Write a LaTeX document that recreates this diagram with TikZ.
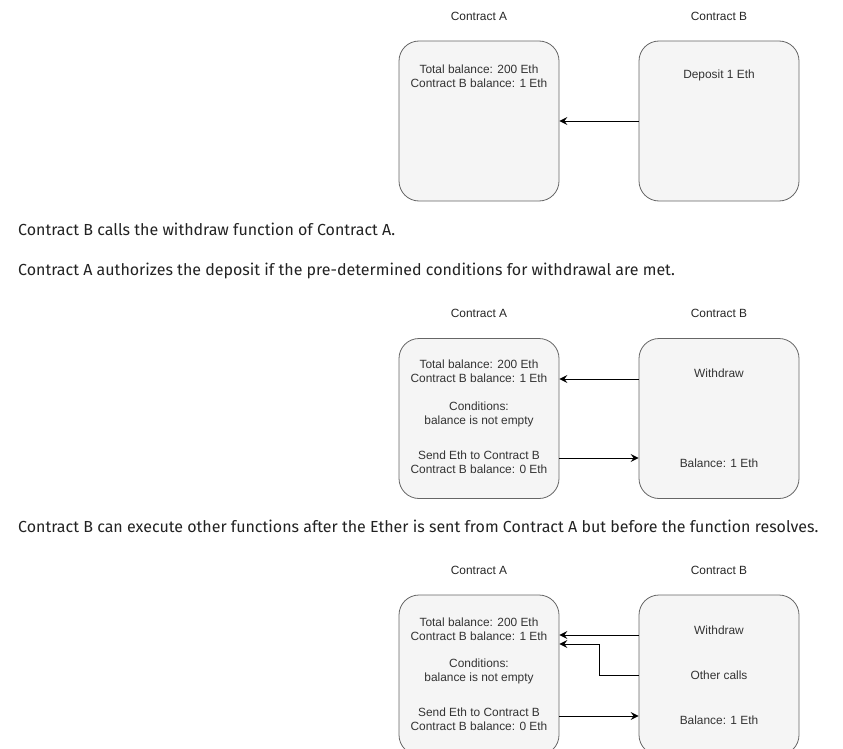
\documentclass[tikz,border=0pt]{standalone}
\usepackage{fontspec}
\setmainfont{Liberation Sans}
\newfontfamily\bodyfont{Fira Sans}
\usetikzlibrary{arrows.meta}
\definecolor{boxfill}{HTML}{F5F5F5}
\definecolor{boxline}{HTML}{666666}
\definecolor{boxtext}{HTML}{333333}
\definecolor{bodytext}{HTML}{222222}
\tikzset{
  cbox/.style={draw=boxline, fill=boxfill, rounded corners=20pt, minimum width=160pt, minimum height=160pt, inner sep=0pt, line width=0.8pt},
  btxt/.style={text=boxtext, font=\fontsize{11.9}{14}\selectfont, align=center, inner sep=0pt},
  ttl/.style={text=black!85, font=\fontsize{11.9}{14}\selectfont, inner sep=0pt},
  body/.style={text=bodytext, font=\bodyfont\fontsize{16}{19}\selectfont, anchor=west, inner sep=0pt},
  arr/.style={-{Stealth[length=8pt,width=8pt,inset=3pt]}, line width=0.9pt, black},
}
\begin{document}
\begin{tikzpicture}[x=1pt,y=-1pt]
\useasboundingbox (0,0) rectangle (843,749);
\clip (0,0) rectangle (843,749);
% Diagram 1
\node[ttl] (t1a) at (479,16) {Contract A};
\node[ttl] (t1b) at (719,16) {Contract B};
\node[cbox] (A1) at (479,121) {};
\node[cbox] (B1) at (719,121) {};
\node[btxt] (a1) at (479,76) {Total balance: 200 Eth\\Contract B balance: 1 Eth};
\node[btxt] (b1) at (719,75) {Deposit 1 Eth};
\draw[arr] (B1.west) -- (A1.east);
% Body text
\node[body] (s1) at (18,229.5) {Contract B calls the withdraw function of Contract A.};
\node[body] (s2) at (18,270.5) {Contract A authorizes the deposit if the pre-determined conditions for withdrawal are met.};
% Diagram 2
\node[ttl] (t2a) at (479,313) {Contract A};
\node[ttl] (t2b) at (719,313) {Contract B};
\node[cbox] (A2) at (479,418.5) {};
\node[cbox] (B2) at (719,418.5) {};
\node[btxt] (a2a) at (479,371.5) {Total balance: 200 Eth\\Contract B balance: 1 Eth};
\node[btxt] (a2b) at (479,414.5) {Conditions:\\balance is not empty};
\node[btxt] (a2c) at (479,462.5) {Send Eth to Contract B\\Contract B balance: 0 Eth};
\node[btxt] (b2a) at (719,373) {Withdraw};
\node[btxt] (b2b) at (719,463) {Balance: 1 Eth};
\coordinate (y2a) at (0,379);
\coordinate (y2b) at (0,458);
\draw[arr] (B2.west |- y2a) -- (A2.east |- y2a);
\draw[arr] (A2.east |- y2b) -- (B2.west |- y2b);
\node[body] (s3) at (18,526.5) {Contract B can execute other functions after the Ether is sent from Contract A but before the function resolves.};
% Diagram 3
\node[ttl] (t3a) at (479,570) {Contract A};
\node[ttl] (t3b) at (719,570) {Contract B};
\node[cbox] (A3) at (479,675) {};
\node[cbox] (B3) at (719,675) {};
\node[btxt] (a3a) at (479,629) {Total balance: 200 Eth\\Contract B balance: 1 Eth};
\node[btxt] (a3b) at (479,671.5) {Conditions:\\balance is not empty};
\node[btxt] (a3c) at (479,719.5) {Send Eth to Contract B\\Contract B balance: 0 Eth};
\node[btxt] (b3a) at (719,630) {Withdraw};
\node[btxt] (b3b) at (719,675) {Other calls};
\node[btxt] (b3c) at (719,720) {Balance: 1 Eth};
\coordinate (y3a) at (0,635);
\coordinate (y3b) at (0,644);
\coordinate (y3c) at (0,716);
\coordinate (bend) at (599,675);
\draw[arr] (B3.west |- y3a) -- (A3.east |- y3a);
\draw[arr] (B3.west) -- (bend) |- (A3.east |- y3b);
\draw[arr] (A3.east |- y3c) -- (B3.west |- y3c);
\end{tikzpicture}
\end{document}
